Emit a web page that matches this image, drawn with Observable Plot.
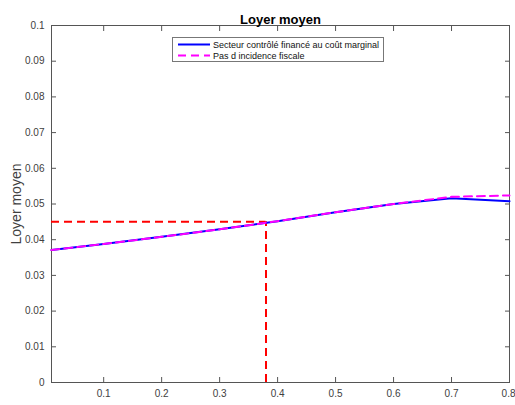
<!DOCTYPE html>
<html><head><meta charset="utf-8">
<script src="https://cdn.jsdelivr.net/npm/d3@7"></script>
<script src="https://cdn.jsdelivr.net/npm/@observablehq/plot@0.6"></script>
<style>
body{margin:0;background:#fff;overflow:hidden;}
#wrap{position:relative;width:515px;height:405px;font-family:"Liberation Sans",Arial,sans-serif;}
#wrap svg{overflow:visible;}
#legend{position:absolute;left:172px;top:37px;width:212px;height:25px;border:1px solid #777;background:#fff;box-sizing:border-box;font-size:9px;color:#111;}
#legend .row{position:absolute;left:0;height:11px;display:flex;align-items:center;}
#legend svg{width:36px;height:11px;margin-left:3px;margin-right:1px;}
</style></head><body><div id="wrap"></div>
<script>
const titleText = "Loyer moyen";
const yLabel = "Loyer moyen";
const seriesNames = ["Secteur contrôlé financé au coût marginal", "Pas d incidence fiscale"];
const xValues = [0.01, 0.1, 0.2, 0.3, 0.4, 0.5, 0.6, 0.7, 0.8];
const blueValues = [0.0371, 0.0388, 0.0408, 0.0429, 0.0452, 0.0477, 0.0500, 0.0516, 0.0508];
const magentaValues = [0.0371, 0.0388, 0.0408, 0.0429, 0.0452, 0.0477, 0.0500, 0.0520, 0.0524];
const refX = 0.38;
const refY = 0.045;
const xTicks = [0.1, 0.2, 0.3, 0.4, 0.5, 0.6, 0.7, 0.8];
const yTicks = [0, 0.01, 0.02, 0.03, 0.04, 0.05, 0.06, 0.07, 0.08, 0.09, 0.1];

const blue = xValues.map((x, i) => ({x, y: blueValues[i]}));
const magenta = xValues.map((x, i) => ({x, y: magentaValues[i]}));
const fmt = d => String(+d.toFixed(2));
const axisColor = "#555";

const chart = Plot.plot({
  width: 515, height: 405,
  marginLeft: 51, marginRight: 6, marginTop: 25, marginBottom: 23,
  style: {fontFamily: "Liberation Sans, Arial, sans-serif", fontSize: "10px", color: "#404040", background: "#fff", overflow: "visible"},
  x: {domain: [0.01, 0.8]},
  y: {domain: [0, 0.1]},
  marks: [
    Plot.axisX({anchor: "bottom", ticks: xTicks, tickFormat: fmt, tickSize: -5, tickPadding: 12, stroke: axisColor, label: null, fontSize: 10}),
    Plot.axisX({anchor: "top", ticks: xTicks, tickFormat: () => "", tickSize: -5, stroke: axisColor, label: null}),
    Plot.axisY({anchor: "left", ticks: yTicks, tickFormat: fmt, tickSize: -5, tickPadding: 12, stroke: axisColor, label: yLabel, labelAnchor: "center", labelArrow: "none", labelOffset: 40, fontSize: 10}),
    Plot.axisY({anchor: "right", ticks: yTicks, tickFormat: () => "", tickSize: -5, stroke: axisColor, label: null}),
    Plot.frame({stroke: axisColor}),
    Plot.ruleY([refY], {x1: 0.01, x2: refX, stroke: "#ff0000", strokeWidth: 2, strokeDasharray: "8,5"}),
    Plot.ruleX([refX], {y1: 0, y2: refY, stroke: "#ff0000", strokeWidth: 2, strokeDasharray: "8,5"}),
    Plot.line(blue, {x: "x", y: "y", stroke: "#0000ff", strokeWidth: 2}),
    Plot.line(magenta, {x: "x", y: "y", stroke: "#ff00ff", strokeWidth: 2, strokeDasharray: "8,5"}),
    Plot.text([titleText], {frameAnchor: "top", dy: -11, fontWeight: "bold", fontSize: 13, fill: "#000"})
  ]
});
const wrap = document.getElementById("wrap");
wrap.appendChild(chart);
chart.querySelectorAll("g[aria-label='y-axis label'] text").forEach(t => { t.setAttribute("font-size", 14); t.style.fontSize = "14px"; });
// keep the last bottom x tick label inside the window, as in the reference
const bottomLabels = Array.from(chart.querySelectorAll("text")).filter(t => t.textContent === fmt(xTicks[xTicks.length - 1]));
bottomLabels.forEach(t => { t.setAttribute("text-anchor", "end"); t.setAttribute("dx", "6"); });

const legend = document.createElement("div");
legend.id = "legend";
const styles = [{stroke: "#0000ff", dash: null}, {stroke: "#ff00ff", dash: "8,5"}];
seriesNames.forEach((name, i) => {
  const row = document.createElement("div");
  row.className = "row";
  row.style.top = (1 + i * 11) + "px";
  const s = styles[i];
  row.innerHTML = `<svg><line x1="2" x2="34" y1="5.5" y2="5.5" stroke="${s.stroke}" stroke-width="2" ${s.dash ? `stroke-dasharray="${s.dash}"` : ""}/></svg><span>${name}</span>`;
  legend.appendChild(row);
});
wrap.appendChild(legend);
</script></body></html>
